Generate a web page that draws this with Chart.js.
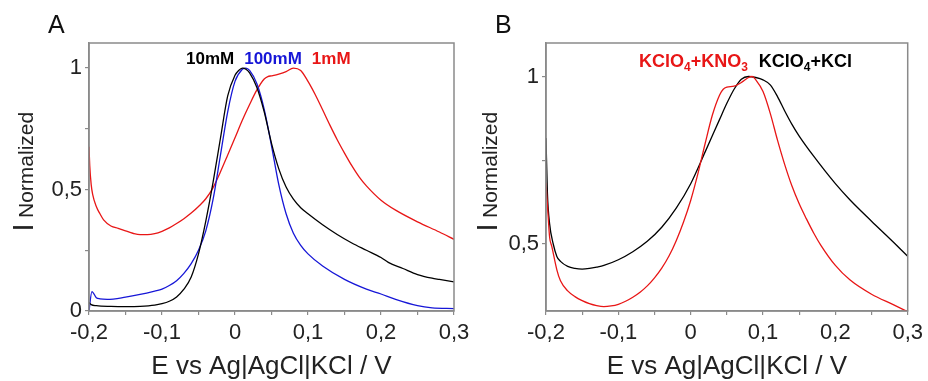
<!DOCTYPE html>
<html lang="en">
<head>
<meta charset="UTF-8">
<title>Normalized current vs potential</title>
<script src="https://cdn.jsdelivr.net/npm/chart.js@4.4.0/dist/chart.umd.min.js"></script>
<style>
  body { margin: 0; background: #fff; }
  #wrap { position: relative; width: 928px; height: 381px; overflow: hidden; }
  canvas { position: absolute; top: 0; }
  #chartA { left: 0; }
  #chartB { left: 464px; }
</style>
</head>
<body>
<div id="wrap">
  <canvas id="chartA" width="480" height="381"></canvas>
  <canvas id="chartB" width="464" height="381"></canvas>
</div>
<script>
// ---- data (potential in V, normalized current) ----
// Panel A
const potA_10mM = [-0.2, -0.1995, -0.197, -0.19, -0.17, -0.15, -0.13, -0.11, -0.1, -0.09, -0.08, -0.07, -0.06, -0.05, -0.04, -0.03, -0.02, -0.01, 0, 0.005, 0.01, 0.015, 0.02, 0.03, 0.04, 0.05, 0.06, 0.07, 0.08, 0.09, 0.1, 0.12, 0.14, 0.16, 0.18, 0.2, 0.21, 0.23, 0.25, 0.27, 0.28, 0.3];
const iA_10mM   = [0.035, 0.033, 0.026, 0.022, 0.019, 0.018, 0.019, 0.024, 0.03, 0.04, 0.058, 0.09, 0.14, 0.235, 0.37, 0.53, 0.71, 0.885, 0.97, 0.99, 1.0, 0.995, 0.98, 0.92, 0.82, 0.69, 0.585, 0.51, 0.46, 0.425, 0.4, 0.355, 0.315, 0.28, 0.25, 0.22, 0.2, 0.175, 0.15, 0.135, 0.13, 0.12];

const potA_100mM = [-0.2, -0.196, -0.19, -0.185, -0.175, -0.15, -0.13, -0.11, -0.1, -0.09, -0.08, -0.07, -0.06, -0.05, -0.04, -0.03, -0.02, -0.01, 0, 0.01, 0.015, 0.02, 0.03, 0.04, 0.05, 0.06, 0.07, 0.08, 0.09, 0.1, 0.12, 0.15, 0.18, 0.2, 0.22, 0.25, 0.27, 0.3];
const iA_100mM   = [0.0, 0.08, 0.055, 0.05, 0.048, 0.057, 0.068, 0.082, 0.09, 0.105, 0.125, 0.155, 0.195, 0.25, 0.33, 0.46, 0.64, 0.82, 0.945, 0.995, 1.0, 0.99, 0.935, 0.83, 0.68, 0.52, 0.4, 0.32, 0.27, 0.235, 0.185, 0.13, 0.09, 0.07, 0.048, 0.022, 0.013, 0.01];

const potA_1mM = [-0.2, -0.199, -0.197, -0.195, -0.19, -0.185, -0.18, -0.17, -0.16, -0.15, -0.14, -0.13, -0.12, -0.11, -0.1, -0.09, -0.08, -0.07, -0.06, -0.05, -0.04, -0.03, -0.02, -0.01, 0, 0.01, 0.02, 0.03, 0.04, 0.045, 0.05, 0.06, 0.07, 0.08, 0.09, 0.1, 0.11, 0.12, 0.13, 0.14, 0.15, 0.16, 0.17, 0.18, 0.2, 0.22, 0.25, 0.28, 0.3];
const iA_1mM   = [0.676, 0.6, 0.52, 0.48, 0.43, 0.4, 0.375, 0.35, 0.34, 0.33, 0.32, 0.314, 0.314, 0.318, 0.328, 0.342, 0.36, 0.38, 0.403, 0.43, 0.462, 0.508, 0.572, 0.642, 0.713, 0.785, 0.85, 0.91, 0.955, 0.965, 0.968, 0.975, 0.985, 1.0, 0.99, 0.945, 0.89, 0.828, 0.765, 0.705, 0.65, 0.598, 0.552, 0.515, 0.456, 0.415, 0.367, 0.325, 0.295];

// Panel B
const potB_KCl = [-0.2, -0.198, -0.195, -0.19, -0.185, -0.18, -0.17, -0.16, -0.15, -0.14, -0.13, -0.12, -0.1, -0.08, -0.06, -0.04, -0.02, 0, 0.02, 0.04, 0.05, 0.06, 0.07, 0.08, 0.09, 0.1, 0.11, 0.12, 0.13, 0.14, 0.15, 0.17, 0.2, 0.22, 0.25, 0.28, 0.3];
const iB_KCl   = [0.816, 0.65, 0.56, 0.5, 0.463, 0.448, 0.433, 0.427, 0.425, 0.427, 0.431, 0.436, 0.453, 0.477, 0.508, 0.55, 0.607, 0.68, 0.775, 0.872, 0.92, 0.962, 0.992, 1.0, 0.997, 0.99, 0.975, 0.94, 0.897, 0.857, 0.822, 0.762, 0.68, 0.632, 0.568, 0.506, 0.463];

const potB_KNO3 = [-0.2, -0.197, -0.195, -0.192, -0.185, -0.18, -0.17, -0.16, -0.15, -0.14, -0.13, -0.12, -0.11, -0.1, -0.09, -0.08, -0.07, -0.06, -0.05, -0.04, -0.03, -0.02, -0.01, 0, 0.01, 0.02, 0.03, 0.04, 0.045, 0.05, 0.06, 0.07, 0.08, 0.085, 0.09, 0.1, 0.11, 0.12, 0.13, 0.14, 0.15, 0.16, 0.17, 0.18, 0.2, 0.22, 0.25, 0.28, 0.3];
const iB_KNO3   = [0.682, 0.582, 0.52, 0.493, 0.423, 0.39, 0.36, 0.343, 0.331, 0.322, 0.316, 0.313, 0.315, 0.32, 0.329, 0.341, 0.356, 0.375, 0.399, 0.428, 0.464, 0.51, 0.565, 0.63, 0.71, 0.8, 0.885, 0.945, 0.962, 0.968, 0.971, 0.982, 0.997, 1.0, 0.99, 0.955, 0.89, 0.81, 0.737, 0.673, 0.62, 0.575, 0.533, 0.496, 0.436, 0.393, 0.35, 0.319, 0.298];

// ---- ticks ----
const xMajorTicks = [-0.2, -0.1, 0, 0.1, 0.2, 0.3];
const xTickLabels = ['-0,2', '-0,1', '0', '0,1', '0,2', '0,3'];
const xMinorTicks = [-0.15, -0.05, 0.05, 0.15, 0.25];
const yMajorTicksA = [0, 0.5, 1];
const yTickLabelsA = ['0', '0,5', '1'];
const yMinorTicksA = [0.25, 0.75];
const yMajorTicksB = [0.5, 1];
const yTickLabelsB = ['0,5', '1'];
const yMinorTicksB = [0.75];

const xTitle = 'E vs Ag|AgCl|KCl / V';

const RED = 'rgb(232, 22, 22)';
const BLUE = 'rgb(22, 22, 215)';
const BLACK = '#000';
const AXIS = '#8a8a8a';
const FONT = '"Liberation Sans", Arial, sans-serif';

function pts(xs, ys) {
  return xs.map((x, i) => ({ x: x, y: ys[i] }));
}

function tickSet(major, minor) {
  return major.concat(minor).sort((a, b) => a - b).map(v => ({ value: v }));
}

function labelFor(major, labels) {
  return function (value) {
    const i = major.findIndex(m => Math.abs(m - value) < 1e-9);
    return i >= 0 ? labels[i] : '';
  };
}

// draws frame, y title, in-plot legend and panel letter
const decorations = {
  id: 'decorations',
  afterDatasetsDraw(chart, args, opts) {
    const ctx = chart.ctx;
    const a = chart.chartArea;
    ctx.save();
    ctx.strokeStyle = AXIS;
    ctx.lineWidth = 1.5;
    ctx.strokeRect(a.left, a.top, a.right - a.left, a.bottom - a.top);

    // panel letter
    ctx.fillStyle = '#111';
    ctx.font = '25px ' + FONT;
    ctx.textBaseline = 'alphabetic';
    ctx.textAlign = 'left';
    ctx.fillText(opts.letter, opts.letterX, 33);

    // y title: I with subscript Normalized
    ctx.save();
    ctx.translate(33, 231.5);
    ctx.rotate(-Math.PI / 2);
    ctx.fillStyle = '#222';
    ctx.font = '29px ' + FONT;
    ctx.fillText('I', 0, 0);
    ctx.font = '21px ' + FONT;
    ctx.fillText('Normalized', 13.5, 0);
    ctx.restore();

    // legend text with optional subscripts
    let x = opts.legendX;
    opts.legend.forEach(item => {
      ctx.fillStyle = item.color;
      item.parts.forEach(p => {
        if (p.sub) {
          ctx.font = 'bold ' + Math.round(opts.legendSize * 0.66) + 'px ' + FONT;
          ctx.fillText(p.t, x, opts.legendY + 4);
        } else {
          ctx.font = 'bold ' + opts.legendSize + 'px ' + FONT;
          ctx.fillText(p.t, x, opts.legendY);
        }
        x += ctx.measureText(p.t).width;
      });
      x += opts.legendGap;
    });
    ctx.restore();
  }
};

function makeChart(id, datasets, p) {
  return new Chart(document.getElementById(id), {
    type: 'line',
    data: { datasets: datasets },
    plugins: [decorations],
    options: {
      responsive: false,
      animation: false,
      layout: { padding: { top: 43, right: p.padRight, left: 0, bottom: 0 } },
      elements: {
        point: { radius: 0 },
        line: { borderWidth: 1.3, cubicInterpolationMode: 'monotone' }
      },
      plugins: {
        legend: { display: false },
        tooltip: { enabled: false },
        decorations: p.deco
      },
      scales: {
        x: {
          type: 'linear',
          min: -0.2,
          max: 0.3,
          afterBuildTicks: s => { s.ticks = tickSet(xMajorTicks, xMinorTicks); },
          afterFit: s => { s.height = 70; },
          ticks: {
            callback: labelFor(xMajorTicks, xTickLabels),
            autoSkip: false,
            maxRotation: 0,
            padding: 5,
            color: '#222',
            font: { family: FONT, size: 22 }
          },
          grid: { drawOnChartArea: false, tickLength: 4, color: AXIS, lineWidth: 1.2 },
          border: { color: AXIS, width: 1.5 },
          title: {
            display: true,
            text: xTitle,
            color: '#222',
            font: { family: FONT, size: 26, lineHeight: 1 },
            padding: { top: 0, bottom: 1 }
          }
        },
        y: {
          type: 'linear',
          min: p.yMin,
          max: p.yMax,
          afterBuildTicks: s => { s.ticks = tickSet(p.yMajor, p.yMinor); },
          afterFit: s => { s.width = p.yWidth; },
          ticks: {
            callback: labelFor(p.yMajor, p.yLabels),
            autoSkip: false,
            padding: 3,
            color: '#222',
            font: { family: FONT, size: 22 }
          },
          grid: { drawOnChartArea: false, tickLength: 4, color: AXIS, lineWidth: 1.2 },
          border: { color: AXIS, width: 1.5 }
        }
      }
    }
  });
}

makeChart('chartA', [
  { label: '10mM', data: pts(potA_10mM, iA_10mM), borderColor: BLACK },
  { label: '100mM', data: pts(potA_100mM, iA_100mM), borderColor: BLUE },
  { label: '1mM', data: pts(potA_1mM, iA_1mM), borderColor: RED }
], {
  padRight: 26, yWidth: 89, yMin: 0, yMax: 1.103,
  yMajor: yMajorTicksA, yLabels: yTickLabelsA, yMinor: yMinorTicksA,
  deco: {
    letter: 'A', letterX: 48,
    legendX: 186, legendY: 63.5, legendGap: 10, legendSize: 17,
    legend: [
      { color: BLACK, parts: [{ t: '10mM' }] },
      { color: BLUE, parts: [{ t: '100mM' }] },
      { color: RED, parts: [{ t: '1mM' }] }
    ]
  }
});

makeChart('chartB', [
  { label: 'KClO4+KNO3', data: pts(potB_KNO3, iB_KNO3), borderColor: RED },
  { label: 'KClO4+KCl', data: pts(potB_KCl, iB_KCl), borderColor: BLACK }
], {
  padRight: 17, yWidth: 82, yMin: 0.3, yMax: 1.1,
  yMajor: yMajorTicksB, yLabels: yTickLabelsB, yMinor: yMinorTicksB,
  deco: {
    letter: 'B', letterX: 31,
    legendX: 175, legendY: 66.5, legendGap: 11, legendSize: 18,
    legend: [
      { color: RED, parts: [{ t: 'KClO' }, { t: '4', sub: true }, { t: '+KNO' }, { t: '3', sub: true }] },
      { color: BLACK, parts: [{ t: 'KClO' }, { t: '4', sub: true }, { t: '+KCl' }] }
    ]
  }
});
</script>
</body>
</html>
